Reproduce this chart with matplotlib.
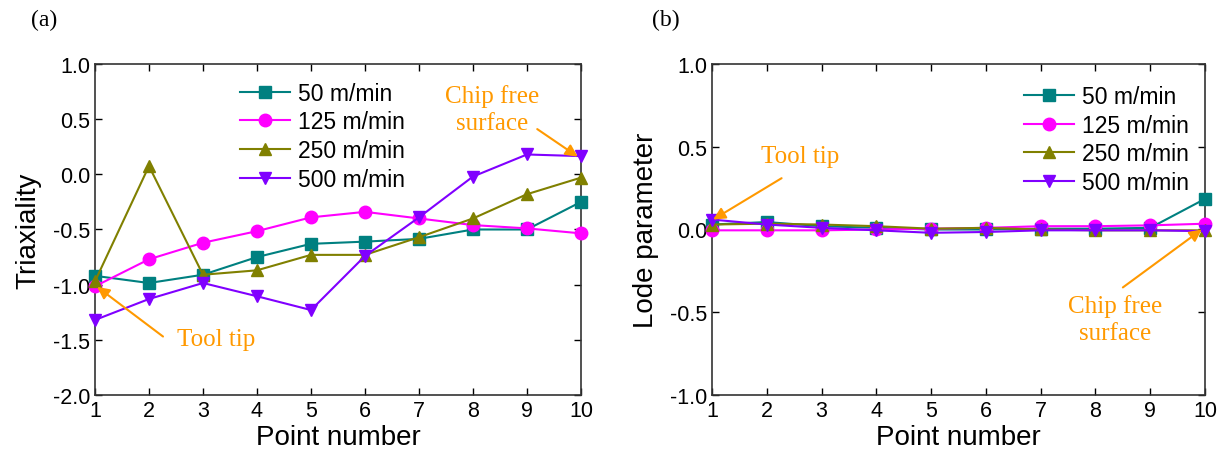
"""
Triaxiality and Lode parameter along the point path for four cutting speeds.
"""

import numpy as np
import matplotlib.pyplot as plt

plt.rcParams['font.family'] = ['Liberation Sans', 'DejaVu Sans']
plt.rcParams['axes.unicode_minus'] = False

# Data
points = np.arange(1, 11)
speeds = ['50 m/min', '125 m/min', '250 m/min', '500 m/min']

triax_50 = [-0.92, -0.985, -0.91, -0.75, -0.63, -0.61, -0.585, -0.50, -0.50, -0.25]
triax_125 = [-1.015, -0.77, -0.62, -0.515, -0.39, -0.34, -0.40, -0.46, -0.49, -0.535]
triax_250 = [-0.97, 0.075, -0.91, -0.87, -0.73, -0.73, -0.57, -0.40, -0.18, -0.03]
triax_500 = [-1.32, -1.13, -0.985, -1.105, -1.23, -0.74, -0.39, -0.02, 0.18, 0.165]

lode_50 = [0.03, 0.045, 0.02, 0.01, 0.0, 0.0, 0.005, 0.005, 0.01, 0.185]
lode_125 = [-0.005, -0.005, -0.005, 0.0, 0.005, 0.01, 0.02, 0.02, 0.025, 0.035]
lode_250 = [0.03, 0.035, 0.03, 0.02, 0.005, 0.01, 0.0, -0.005, -0.005, -0.005]
lode_500 = [0.06, 0.03, 0.01, -0.005, -0.02, -0.015, -0.005, -0.005, -0.005, -0.01]

colors = ['#008080', '#FF00FF', '#808000', '#8000FF']
markers = ['s', 'o', '^', 'v']
ORANGE = '#FF9900'
SERIF = ['Liberation Serif', 'DejaVu Serif']


def draw_panel(ax, series, yticks, ylabel):
    for vals, lab, c, m in zip(series, speeds, colors, markers):
        ax.plot(points, vals, color=c, marker=m, markersize=9, lw=1.5,
                label=lab, clip_on=False, zorder=3)
    ax.set_xlim(1, 10)
    ax.set_ylim(yticks[0], yticks[-1])
    ax.set_xticks(points)
    ax.set_yticks(yticks)
    ax.set_yticklabels([f'{t:.1f}' for t in yticks])
    ax.tick_params(direction='in', top=True, right=True, labelsize=15.5,
                   length=5, width=1)
    ax.set_xlabel('Point number', fontsize=20, labelpad=2)
    ax.set_ylabel(ylabel, fontsize=20, labelpad=8)
    for sp in ax.spines.values():
        sp.set_linewidth(1.2)
        sp.set_color('#333333')


fig = plt.figure(figsize=(12.27, 4.52), dpi=100)
ax1 = fig.add_axes([0.0774, 0.1239, 0.3961, 0.7323])
ax2 = fig.add_axes([0.5803, 0.1239, 0.4018, 0.7323])

draw_panel(ax1, [triax_50, triax_125, triax_250, triax_500],
           [-2.0, -1.5, -1.0, -0.5, 0.0, 0.5, 1.0], 'Triaxiality')
draw_panel(ax2, [lode_50, lode_125, lode_250, lode_500],
           [-1.0, -0.5, 0.0, 0.5, 1.0], 'Lode parameter')

leg_kw = dict(frameon=False, fontsize=16.5, handlelength=2.2,
              handletextpad=0.35, labelspacing=0.25, borderaxespad=0.3)
ax1.legend(loc='upper left', bbox_to_anchor=(0.265, 0.995), **leg_kw)
ax2.legend(loc='upper right', bbox_to_anchor=(1.0, 0.985), **leg_kw)

arrow = dict(arrowstyle='-|>', color=ORANGE, lw=1.5, mutation_scale=18,
             shrinkA=0, shrinkB=0)

# panel (a) annotations
ax1.annotate('', xy=(1.04, -1.02), xytext=(2.26, -1.47), arrowprops=arrow)
ax1.text(3.24, -1.49, 'Tool tip', color=ORANGE, fontsize=18, family=SERIF,
         ha='center', va='center')
ax1.annotate('', xy=(9.94, 0.16), xytext=(9.19, 0.41), arrowprops=arrow)
ax1.text(8.35, 0.59, 'Chip free\nsurface', color=ORANGE, fontsize=18,
         family=SERIF, ha='center', va='center', linespacing=1.3)

# panel (b) annotations
ax2.annotate('', xy=(1.02, 0.06), xytext=(2.27, 0.31), arrowprops=arrow)
ax2.text(2.61, 0.447, 'Tool tip', color=ORANGE, fontsize=18, family=SERIF,
         ha='center', va='center')
ax2.annotate('', xy=(9.94, 0.0), xytext=(8.5, -0.35), arrowprops=arrow)
ax2.text(8.35, -0.54, 'Chip free\nsurface', color=ORANGE, fontsize=18,
         family=SERIF, ha='center', va='center', linespacing=1.3)

fig.text(0.025, 0.955, '(a)', fontsize=17, family=SERIF, va='center')
fig.text(0.531, 0.955, '(b)', fontsize=17, family=SERIF, va='center')

fig.savefig('out.png', dpi=100)
